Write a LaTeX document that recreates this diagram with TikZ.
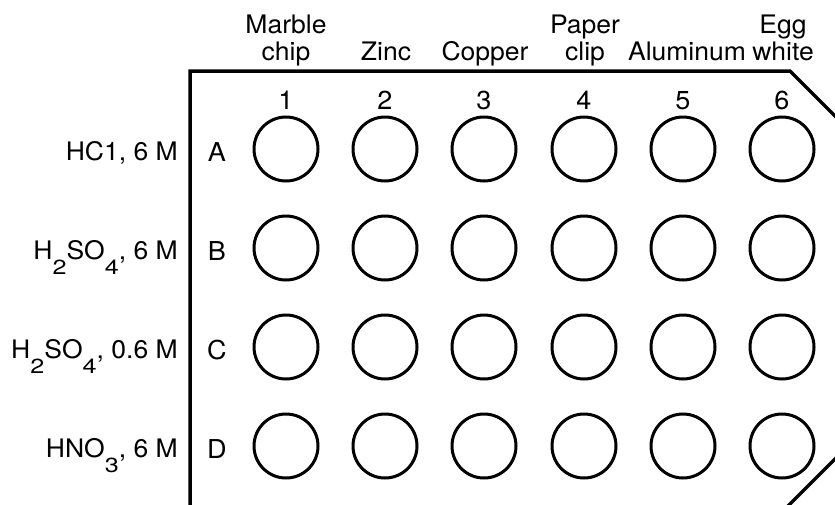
\documentclass[tikz,border=0pt]{standalone}
\usepackage{graphicx}
\usepackage{fontspec}
\setmainfont{TeX Gyre Heros}[FakeStretch=1.04]
% chemical subscript: full-width digits, flattened and lowered
\newcommand\chemsub[1]{\raisebox{-15.5pt}{\scalebox{0.95}[0.8]{#1}}}
\newcommand\hdr[1]{\begin{tabular}[b]{@{}c@{}}#1\end{tabular}}
\tikzset{
  well/.style={circle, draw, line width=3pt, minimum size=64pt, inner sep=0pt},
  plate/.style={line width=3.5pt},
  headtxt/.style={anchor=base, inner sep=0pt, font=\fontsize{25.5}{27}\selectfont},
  numtxt/.style={anchor=base, inner sep=0pt, font=\fontsize{26}{28}\selectfont},
  acidtxt/.style={anchor=base east, inner sep=0pt, font=\fontsize{25.5}{27}\selectfont},
}
\begin{document}
\begin{tikzpicture}[x=1pt, y=-1pt]
\useasboundingbox (0,0) rectangle (835,504);
\clip (0,0) rectangle (835,504);

% plate outline with chamfered corners
\coordinate (pbl) at (190,515);
\coordinate (ptl) at (190,71);
\coordinate (ptr) at (790,71);
\coordinate (pcut) at (860,141);
\coordinate (pbr) at (790,504);
\coordinate (pbr2) at (860,434);
\draw[plate] (pbl) -- (ptl) -- (ptr) -- (pcut);
\draw[plate] ([shift={(-10,10)}]pbr) -- (pbr2);

% column headers
\node[headtxt] (h1) at (286,60) {\hdr{Marble\\chip}};
\node[headtxt] (h2) at (386,60) {Zinc};
\node[headtxt] (h3) at (485,60) {Copper};
\node[headtxt] (h4) at (585,60) {\hdr{Paper\\clip}};
\node[headtxt] (h5) at (687,60) {Aluminum};
\node[headtxt] (h6) at (783,60) {\hdr{Egg\\white}};

% column numbers
\foreach \c/\x in {1/286,2/385,3/484,4/584,5/683,6/782}
  \node[numtxt] (n\c) at (\x,109) {\c};

% row letters and wells
\foreach \r/\y in {A/149,B/248,C/347,D/446}{
  \node[numtxt] (l\r) at (217,\y+12) {\r};
  \foreach \c/\x in {1/286,2/385,3/484,4/584,5/683,6/782}
    \node[well] (w\r\c) at (\x,\y) {};
}

% reagents
\node[acidtxt] (aA) at (178,160) {HC1, 6 M};
\node[acidtxt] (aB) at (178,259) {H\chemsub{2}SO\chemsub{4}, 6 M};
\node[acidtxt] (aC) at (178,358) {H\chemsub{2}SO\chemsub{4}, 0.6 M};
\node[acidtxt] (aD) at (178,457) {HNO\chemsub{3}, 6 M};
\end{tikzpicture}
\end{document}
